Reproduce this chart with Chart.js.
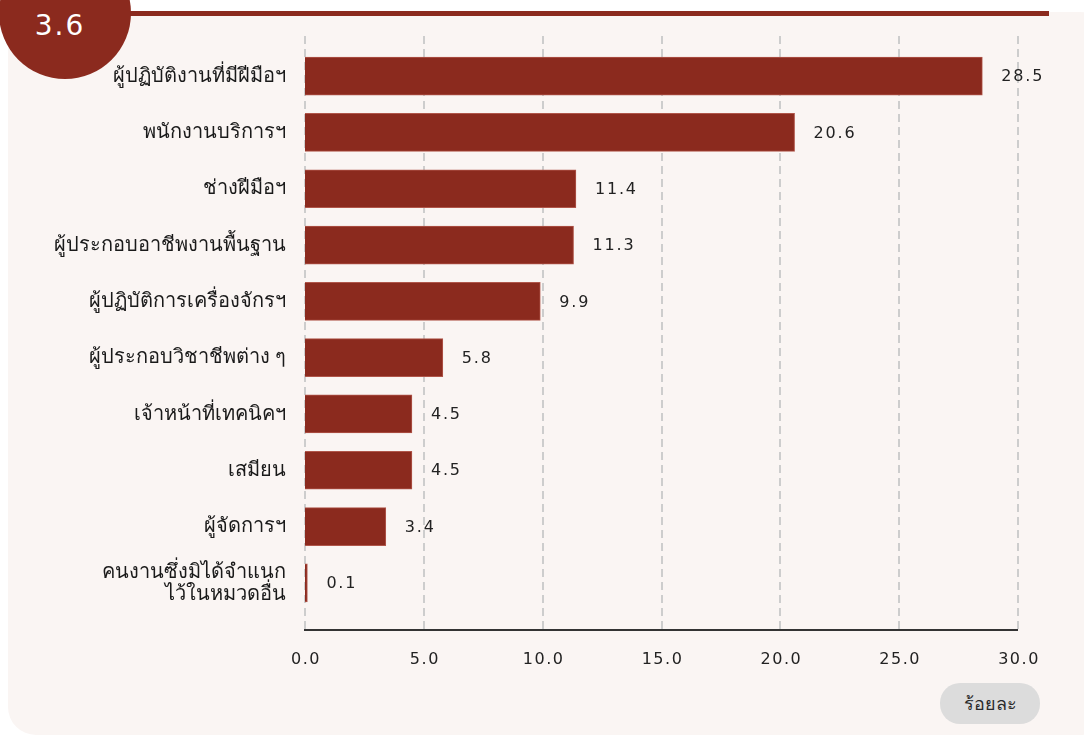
<!DOCTYPE html>
<html>
<head>
<meta charset="utf-8">
<script src="https://cdn.jsdelivr.net/npm/chart.js@4.4.1/dist/chart.umd.min.js"></script>
<style>
  html, body { margin: 0; padding: 0; background: #fff; }
  body { width: 1084px; height: 738px; position: relative; overflow: hidden; font-family: "DejaVu Sans", sans-serif; }
  .panel { position: absolute; left: 8px; top: 12px; width: 1100px; height: 723px; background: #faf5f3; border-radius: 28px; }
  .rule { position: absolute; left: 110px; top: 11px; width: 939px; height: 5px; background: #8b2a1e; }
  .badge { position: absolute; left: -1px; top: -53px; width: 132px; height: 132px; border-radius: 50%; background: #8b2a1e; }
  .badge span { position: absolute; left: 0; right: 10px; top: 62px; text-align: center; color: #fff; font-size: 28px; letter-spacing: 2px; }
  .unit { position: absolute; left: 940px; top: 683px; width: 100px; height: 41px; border-radius: 20px; background: #dcdcdc; color: #2a2a2a; font-size: 18px; line-height: 41px; text-align: center; font-family: "Noto Sans", sans-serif; }
  canvas { position: absolute; left: 0; top: 0; }
</style>
</head>
<body>
<div class="panel"></div>
<div class="rule"></div>
<div class="badge"><span>3.6</span></div>
<div class="unit">ร้อยละ</div>
<canvas id="chart" width="1084" height="738"></canvas>
<script>
const categories = [
    'ผู้ปฏิบัติงานที่มีฝีมือฯ',
    'พนักงานบริการฯ',
    'ช่างฝีมือฯ',
    'ผู้ประกอบอาชีพงานพื้นฐาน',
    'ผู้ปฏิบัติการเครื่องจักรฯ',
    'ผู้ประกอบวิชาชีพต่าง ๆ',
    'เจ้าหน้าที่เทคนิคฯ',
    'เสมียน',
    'ผู้จัดการฯ',
    ['คนงานซึ่งมิได้จำแนก', 'ไว้ในหมวดอื่น']
];
const shares = [28.5, 20.6, 11.4, 11.3, 9.9, 5.8, 4.5, 4.5, 3.4, 0.1];
const xTicks = [0, 5, 10, 15, 20, 25, 30];

const barColor = '#8b2a1e';
const numFont = '16px "DejaVu Sans", sans-serif';

// dashed grid, axis line and x tick labels drawn from the x scale
const gridPlugin = {
    id: 'grid',
    beforeDatasetsDraw(chart) {
        const ctx = chart.ctx;
        const x = chart.scales.x;
        const bottom = 630;
        ctx.save();
        ctx.strokeStyle = '#cdcdcd';
        ctx.lineWidth = 2;
        ctx.setLineDash([8, 5]);
        xTicks.forEach(v => {
            const px = Math.round(x.getPixelForValue(v));
            ctx.beginPath();
            ctx.moveTo(px, 36);
            ctx.lineTo(px, bottom);
            ctx.stroke();
        });
        ctx.setLineDash([]);
        ctx.strokeStyle = '#333';
        ctx.lineWidth = 2;
        ctx.beginPath();
        ctx.moveTo(x.getPixelForValue(0) - 1, bottom);
        ctx.lineTo(x.getPixelForValue(30), bottom);
        ctx.stroke();

        ctx.fillStyle = '#222';
        ctx.font = numFont;
        ctx.letterSpacing = '1.5px';
        ctx.textAlign = 'center';
        ctx.textBaseline = 'middle';
        xTicks.forEach(v => {
            ctx.fillText(v.toFixed(1), x.getPixelForValue(v) + 1, 660);
        });
        ctx.restore();
    },
    afterDatasetsDraw(chart) {
        const ctx = chart.ctx;
        const meta = chart.getDatasetMeta(0);
        ctx.save();
        ctx.fillStyle = '#222';
        ctx.font = numFont;
        ctx.letterSpacing = '1.8px';
        ctx.textAlign = 'left';
        ctx.textBaseline = 'middle';
        meta.data.forEach((bar, i) => {
            ctx.fillText(shares[i].toFixed(1), bar.x + 19, bar.y + 1);
        });
        ctx.restore();
    }
};

new Chart(document.getElementById('chart'), {
    type: 'bar',
    data: {
        labels: categories,
        datasets: [{
            data: shares,
            backgroundColor: barColor,
            borderColor: '#b0564a',
            borderWidth: 1,
            barThickness: 38
        }]
    },
    plugins: [gridPlugin],
    options: {
        indexAxis: 'y',
        responsive: false,
        animation: false,
        layout: { padding: { top: 48, right: 66, left: 0, bottom: 0 } },
        plugins: {
            legend: { display: false },
            tooltip: { enabled: false }
        },
        scales: {
            x: {
                min: 0,
                max: 30,
                afterFit(scale) { scale.height = 738 - 611; },
                grid: { display: false },
                border: { display: false },
                ticks: { display: false, stepSize: 5 }
            },
            y: {
                afterFit(scale) { scale.width = 305; },
                grid: { display: false },
                border: { display: false },
                ticks: {
                    padding: 11,
                    color: '#1a1a1a',
                    font: { family: '"Noto Sans", "DejaVu Sans", sans-serif', size: 20, lineHeight: 1.1 }
                }
            }
        }
    }
});
</script>
</body>
</html>
